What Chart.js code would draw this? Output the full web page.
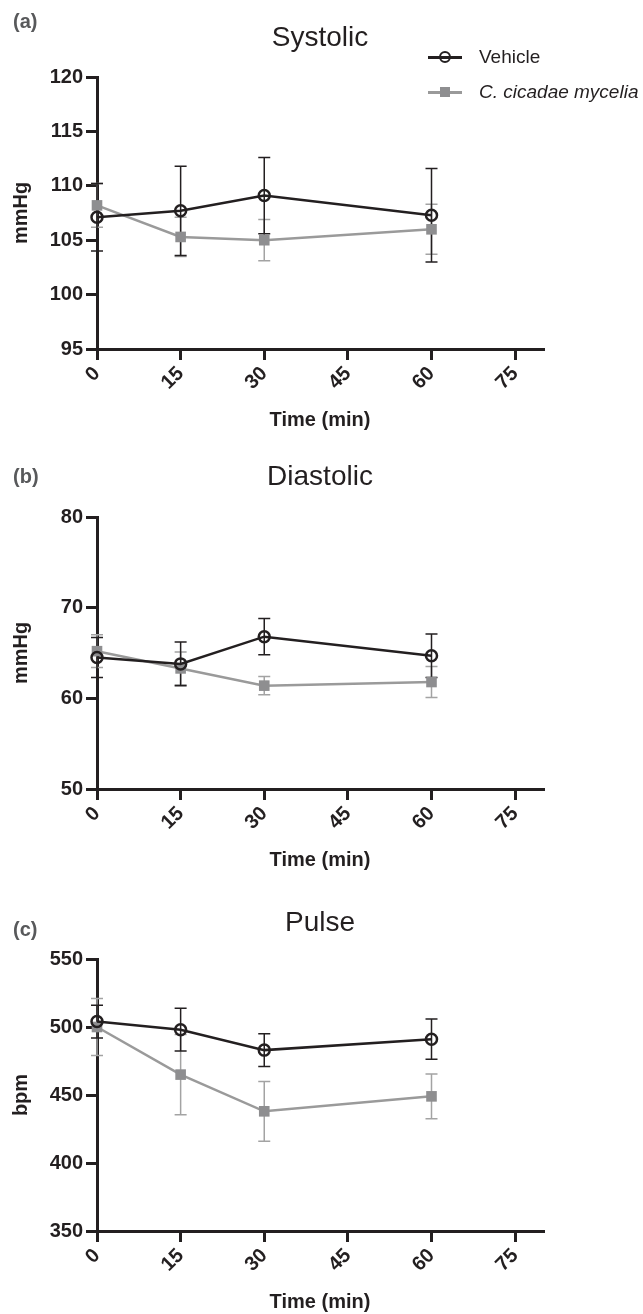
<!DOCTYPE html>
<html lang="en">
<head>
<meta charset="UTF-8" />
<title>Systolic, Diastolic and Pulse</title>
<script src="https://cdn.jsdelivr.net/npm/chart.js@4.4.0/dist/chart.umd.min.js"></script>
<style>
  body { margin: 0; background: #fff; font-family: "Liberation Sans", Arial, sans-serif; }
  #page { position: relative; width: 643px; height: 1314px; overflow: hidden; }
  .panel { position: absolute; left: 0; width: 643px; height: 432px; }
  .tag { position: absolute; left: 13px; font-size: 20px; line-height: 20px; font-weight: bold; color: #58595b; }
  .key { position: absolute; left: 428px; height: 24px; display: flex; align-items: center; font-size: 19px; color: #231f20; }
  .mk { position: relative; width: 34px; height: 24px; margin-right: 17px; }
  .mk::before { content: ''; position: absolute; left: 0; right: 0; top: 10.5px; height: 3px; background: var(--c); }
  .circ { position: absolute; left: 10.5px; top: 5.5px; width: 8px; height: 8px; border: 2.5px solid #231f20; border-radius: 50%; }
  .sq { position: absolute; left: 12px; top: 7px; width: 10px; height: 10px; background: #8e8e90; }
</style>
</head>
<body>
<div id="page">
  <div class="panel" style="top:0px"><canvas id="sysChart" width="643" height="432"></canvas></div>
  <div class="panel" style="top:440px"><canvas id="diaChart" width="643" height="432"></canvas></div>
  <div class="panel" style="top:882px"><canvas id="pulChart" width="643" height="432"></canvas></div>

  <div class="tag" style="top:11px">(a)</div>
  <div class="tag" style="top:466px">(b)</div>
  <div class="tag" style="top:919px">(c)</div>

  <div class="key" style="top:45px"><span class="mk" style="--c:#231f20"><i class="circ"></i></span><span>Vehicle</span></div>
  <div class="key" style="top:80px"><span class="mk" style="--c:#9a9a9a"><i class="sq"></i></span><span style="font-style:italic">C. cicadae mycelia</span></div>
</div>

<script>
  const times = [0, 15, 30, 60];
  const xTicks = [0, 15, 30, 45, 60, 75];

  // systolic (mmHg)
  const sysVehicle = [107.1, 107.7, 109.1, 107.3];
  const sysVehicleErr = [3.1, 4.1, 3.5, 4.3];
  const sysMycelia = [108.2, 105.3, 105.0, 106.0];
  const sysMyceliaErr = [2.0, 1.8, 1.9, 2.3];

  // diastolic (mmHg)
  const diaVehicle = [64.5, 63.8, 66.8, 64.7];
  const diaVehicleErr = [2.2, 2.4, 2.0, 2.4];
  const diaMycelia = [65.2, 63.3, 61.4, 61.8];
  const diaMyceliaErr = [1.8, 1.8, 1.0, 1.7];

  // pulse (bpm)
  const pulVehicle = [504, 498, 483, 491];
  const pulVehicleErr = [12, 15.7, 12, 14.8];
  const pulMycelia = [500, 465, 438, 449];
  const pulMyceliaErr = [21, 29.5, 22, 16.4];

  const ink = '#231f20';
  const grey = '#9a9a9a';
  const font = '"Liberation Sans", Arial, sans-serif';

  const errorBars = {
    id: 'errorBars',
    beforeDatasetsDraw(chart) {
      const { ctx, scales: { x, y } } = chart;
      ctx.save();
      ctx.lineWidth = 1.5;
      for (let i = chart.data.datasets.length - 1; i >= 0; i--) {
        const ds = chart.data.datasets[i];
        ctx.strokeStyle = ds.errColor;
        ds.data.forEach((p, j) => {
          const e = ds.errors[j];
          const px = x.getPixelForValue(p.x);
          const top = y.getPixelForValue(p.y + e);
          const bot = y.getPixelForValue(p.y - e);
          ctx.beginPath();
          ctx.moveTo(px, top); ctx.lineTo(px, bot);
          ctx.moveTo(px - 6, top); ctx.lineTo(px + 6, top);
          ctx.moveTo(px - 6, bot); ctx.lineTo(px + 6, bot);
          ctx.stroke();
        });
      }
      ctx.restore();
    }
  };

  function points(vals) {
    return times.map((t, i) => ({ x: t, y: vals[i] }));
  }

  function makePanel(id, title, titlePad, yTitle, yMin, yMax, yStep, veh, vehErr, myc, mycErr) {
    new Chart(document.getElementById(id), {
      type: 'line',
      data: {
        datasets: [{
          label: 'Vehicle',
          data: points(veh),
          errors: vehErr,
          errColor: ink,
          borderColor: ink,
          borderWidth: 2.5,
          pointStyle: 'circle',
          pointRadius: 5.5,
          pointBorderWidth: 2.5,
          pointBorderColor: ink,
          pointBackgroundColor: 'rgba(255,255,255,0)',
          tension: 0,
          clip: false
        }, {
          label: 'C. cicadae mycelia',
          data: points(myc),
          errors: mycErr,
          errColor: '#a3a3a3',
          borderColor: grey,
          borderWidth: 2.5,
          pointStyle: 'rect',
          pointRadius: 7.5,
          pointBorderWidth: 0,
          pointBackgroundColor: '#8e8e90',
          tension: 0,
          clip: false
        }]
      },
      options: {
        responsive: false,
        animation: false,
        layout: { padding: { left: 0, right: 100, top: 0, bottom: 0 } },
        plugins: {
          legend: { display: false },
          tooltip: { enabled: false },
          title: {
            display: true,
            fullSize: false,
            text: title,
            color: ink,
            font: { family: font, size: 28, weight: 'normal' },
            padding: titlePad
          }
        },
        scales: {
          x: {
            type: 'linear',
            min: 0,
            max: 80,
            afterBuildTicks: s => { s.ticks = xTicks.map(v => ({ value: v })); },
            afterFit: s => { s.height = 83; },
            border: { display: true, width: 3, color: ink },
            grid: { drawOnChartArea: false, drawTicks: true, tickLength: 11, lineWidth: 3, color: ink },
            ticks: { minRotation: 45, maxRotation: 45, padding: 2, color: ink, font: { family: font, size: 20, weight: 'bold' } },
            title: { display: true, text: 'Time (min)', color: ink, font: { family: font, size: 20, weight: 'bold' }, padding: { top: 0, bottom: 0 } }
          },
          y: {
            min: yMin,
            max: yMax,
            afterFit: s => { s.width = 97; },
            border: { display: true, width: 3, color: ink },
            grid: { drawOnChartArea: false, drawTicks: true, tickLength: 11, lineWidth: 3, color: ink },
            ticks: { stepSize: yStep, padding: 3, color: ink, font: { family: font, size: 20, weight: 'bold' } },
            title: { display: true, text: yTitle, color: ink, font: { family: font, size: 20, weight: 'bold' }, padding: { top: 9.5, bottom: 0 } }
          }
        }
      },
      plugins: [errorBars]
    });
  }

  makePanel('sysChart', 'Systolic', { top: 21, bottom: 22.4 }, 'mmHg', 95, 120, 5,
    sysVehicle, sysVehicleErr, sysMycelia, sysMyceliaErr);
  makePanel('diaChart', 'Diastolic', { top: 20, bottom: 23.4 }, 'mmHg', 50, 80, 10,
    diaVehicle, diaVehicleErr, diaMycelia, diaMyceliaErr);
  makePanel('pulChart', 'Pulse', { top: 24, bottom: 19.4 }, 'bpm', 350, 550, 50,
    pulVehicle, pulVehicleErr, pulMycelia, pulMyceliaErr);
</script>
</body>
</html>
